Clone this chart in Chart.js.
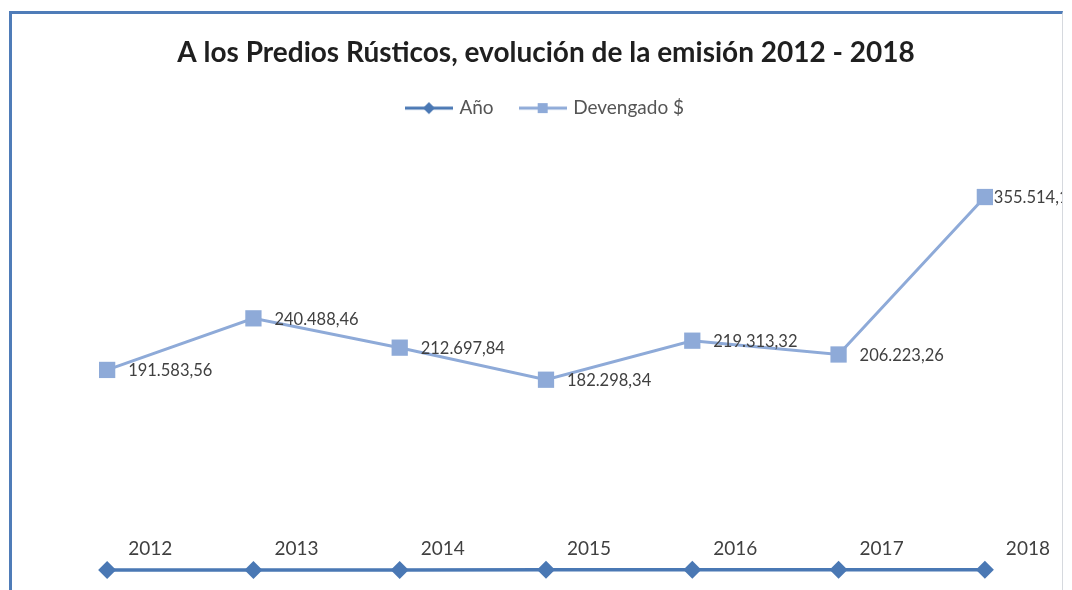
<!DOCTYPE html>
<html>
<head>
<meta charset="utf-8">
<script src="https://cdn.jsdelivr.net/npm/chart.js@4.4.1/dist/chart.umd.min.js"></script>
<style>
  html, body { margin: 0; padding: 0; background: #ffffff; overflow: hidden; }
  #frame {
    position: absolute; left: 9px; top: 11px; width: 1050px; height: 700px;
    border-left: 3px solid #4f7cb8; border-top: 3px solid #4f7cb8; border-right: 1px solid #d6d9de;
    background: #ffffff; overflow: hidden;
  }
  #wrap { position: absolute; left: 0; top: 0; width: 1058px; height: 576px; }
</style>
</head>
<body>
<div id="frame"><div id="wrap"><canvas id="c"></canvas></div></div>
<script>
const categories = ['2012', '2013', '2014', '2015', '2016', '2017', '2018'];
const anoValues = [2012, 2013, 2014, 2015, 2016, 2017, 2018];
const devengadoValues = [191583.56, 240488.46, 212697.84, 182298.34, 219313.32, 206223.26, 355514.17];
const seriesNames = ['Año', 'Devengado $'];
const titleText = 'A los Predios Rústicos, evolución de la emisión 2012 - 2018';

const COLOR_ANO = '#4a78b4';
const COLOR_DEV = '#8eaad8';
const FONT = 'Lato, "Open Sans", sans-serif';

function fmtEs(v) {
  const parts = v.toFixed(2).split('.');
  const intPart = parts[0].replace(/\B(?=(\d{3})+(?!\d))/g, '.');
  return intPart + ',' + parts[1];
}

function legendIcon(color, style) {
  const cv = document.createElement('canvas');
  cv.width = 48; cv.height = 16;
  const g = cv.getContext('2d');
  g.strokeStyle = color; g.lineWidth = 3;
  g.beginPath(); g.moveTo(0, 8); g.lineTo(48, 8); g.stroke();
  g.fillStyle = color;
  if (style === 'diamond') {
    g.beginPath(); g.moveTo(24, 2); g.lineTo(30, 8); g.lineTo(24, 14); g.lineTo(18, 8); g.closePath(); g.fill();
  } else {
    g.fillRect(19, 3, 10, 10);
  }
  return cv;
}

const labelPlugin = {
  id: 'pointLabels',
  afterDatasetsDraw(chart) {
    const ctx = chart.ctx;
    ctx.save();
    ctx.textAlign = 'left';
    ctx.textBaseline = 'middle';
    const m0 = chart.getDatasetMeta(0);
    ctx.font = '19px ' + FONT;
    ctx.fillStyle = '#404040';
    m0.data.forEach((pt, i) => {
      ctx.fillText(String(anoValues[i]), pt.x + 21, pt.y - 21);
    });
    const m1 = chart.getDatasetMeta(1);
    ctx.font = '16.5px ' + FONT;
    ctx.fillStyle = '#404040';
    const last = m1.data.length - 1;
    m1.data.forEach((pt, i) => {
      const dx = i === last ? 9 : 21;
      ctx.fillText(fmtEs(devengadoValues[i]), pt.x + dx, pt.y + 1);
    });
    ctx.restore();
  }
};

const legendSpacer = {
  id: 'legendSpacer',
  beforeInit(chart) {
    const origFit = chart.legend.fit;
    chart.legend.fit = function () {
      origFit.bind(chart.legend)();
      this.height += 22.5;
    };
  }
};

new Chart(document.getElementById('c'), {
  type: 'line',
  data: {
    labels: categories,
    datasets: [
      {
        label: seriesNames[0],
        data: anoValues,
        borderColor: COLOR_ANO,
        backgroundColor: COLOR_ANO,
        borderWidth: 3.5,
        pointStyle: 'rectRot',
        pointRadius: 9,
        pointHoverRadius: 9,
        pointBorderWidth: 0,
        tension: 0,
        clip: false
      },
      {
        label: seriesNames[1],
        data: devengadoValues,
        borderColor: COLOR_DEV,
        backgroundColor: COLOR_DEV,
        borderWidth: 3,
        pointStyle: 'rect',
        pointRadius: 11.5,
        pointHoverRadius: 11.5,
        pointBorderWidth: 0,
        tension: 0,
        clip: false
      }
    ]
  },
  options: {
    responsive: true,
    maintainAspectRatio: false,
    animation: false,
    layout: { padding: { left: 22, right: 12, top: 0, bottom: 18 } },
    scales: {
      x: { display: false, offset: true },
      y: { display: false, min: 0, max: 400000 }
    },
    plugins: {
      title: {
        display: true,
        text: titleText,
        color: '#1f1f1f',
        font: { family: FONT, size: 28, weight: 'bold' },
        padding: { top: 22, bottom: 1 }
      },
      legend: {
        display: true,
        position: 'top',
        labels: {
          usePointStyle: true,
          pointStyleWidth: 42,
          color: '#555555',
          font: { family: FONT, size: 19 },
          padding: 28,
          generateLabels() {
            return [
              { text: seriesNames[0], pointStyle: legendIcon(COLOR_ANO, 'diamond'), fillStyle: COLOR_ANO, strokeStyle: COLOR_ANO, lineWidth: 0, hidden: false, datasetIndex: 0, fontColor: '#555555' },
              { text: seriesNames[1], pointStyle: legendIcon(COLOR_DEV, 'square'), fillStyle: COLOR_DEV, strokeStyle: COLOR_DEV, lineWidth: 0, hidden: false, datasetIndex: 1, fontColor: '#555555' }
            ];
          }
        }
      },
      tooltip: { enabled: false }
    }
  },
  plugins: [labelPlugin, legendSpacer]
});
</script>
</body>
</html>
